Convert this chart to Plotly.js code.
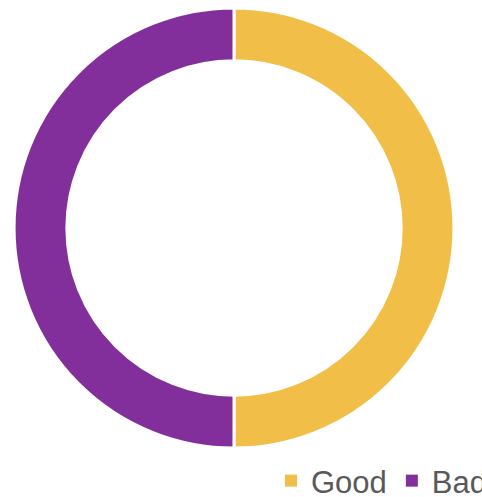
<!DOCTYPE html>
<html><head><meta charset="utf-8">
<script src="https://cdn.plot.ly/plotly-3.0.1.min.js"></script>
<style>html,body{margin:0;padding:0;background:#fff;}#chart{width:482px;height:497px;}
g.legendpoints path{stroke-width:0 !important;}</style>
</head><body><div id="chart"></div>
<script>
const categories = ["Good", "Bad"];
const values = [50, 50];
const colors = ["#F1BE48", "#822F9B"];

Plotly.newPlot("chart", [{
  type: "pie",
  labels: categories,
  values: values,
  hole: 0.76,
  sort: false,
  direction: "clockwise",
  rotation: 0,
  textinfo: "none",
  hoverinfo: "label+value",
  marker: {colors: colors, line: {color: "#ffffff", width: 3}},
  domain: {x: [14/482, 454/482], y: [1 - 448/497, 1 - 8/497]}
}], {
  width: 482, height: 497,
  margin: {l: 0, r: 0, t: 0, b: 0, autoexpand: false},
  paper_bgcolor: "#ffffff",
  showlegend: true,
  legend: {
    orientation: "h",
    x: 271/482, xanchor: "left",
    y: -11/497, yanchor: "bottom",
    font: {family: "Liberation Sans, Arial, sans-serif", size: 31, color: "#595959"},
    itemwidth: 30,
    bgcolor: "rgba(0,0,0,0)"
  }
}, {displayModeBar: false, staticPlot: true});
</script></body></html>
